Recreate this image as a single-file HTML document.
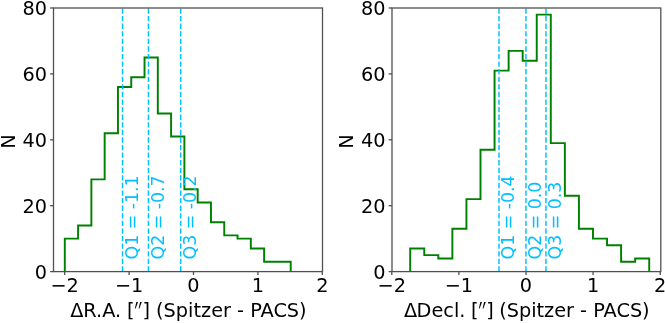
<!DOCTYPE html>
<html><head><meta charset="utf-8"><style>
html,body{margin:0;padding:0;background:#fff;}
body{width:665px;height:323px;overflow:hidden;}
svg{display:block;}
.t{font-family:"DejaVu Sans","Liberation Sans",sans-serif;font-size:19.3px;fill:#000;}
.q{font-family:"DejaVu Sans","Liberation Sans",sans-serif;font-size:17.37px;fill:#00bfff;}
</style></head><body>
<svg width="665" height="323" viewBox="0 0 665 323">
<rect width="665" height="323" fill="#fff"/>
<path d="M64.80,271.60 L64.80,238.65 L78.09,238.65 L78.09,225.47 L91.38,225.47 L91.38,179.34 L104.66,179.34 L104.66,133.21 L117.95,133.21 L117.95,87.08 L131.24,87.08 L131.24,77.19 L144.53,77.19 L144.53,57.43 L157.82,57.43 L157.82,113.44 L171.10,113.44 L171.10,136.51 L184.39,136.51 L184.39,189.23 L197.68,189.23 L197.68,202.41 L210.97,202.41 L210.97,222.18 L224.26,222.18 L224.26,235.36 L237.54,235.36 L237.54,238.65 L250.83,238.65 L250.83,248.54 L264.12,248.54 L264.12,261.72 L277.41,261.72 L277.41,261.72 L290.70,261.72 L290.70,271.60" fill="none" stroke="#008000" stroke-width="1.93" stroke-linejoin="miter"/>
<path d="M122.55,271.6 L122.55,8.0" stroke="#00bfff" stroke-width="1.45" stroke-dasharray="5.3 2.285" fill="none"/>
<path d="M148.45,271.6 L148.45,8.0" stroke="#00bfff" stroke-width="1.45" stroke-dasharray="5.3 2.285" fill="none"/>
<path d="M180.70,271.6 L180.70,8.0" stroke="#00bfff" stroke-width="1.45" stroke-dasharray="5.3 2.285" fill="none"/>
<text transform="translate(137.95,259.5) rotate(-90)" class="q">Q1 = -1.1</text>
<text transform="translate(163.85,259.5) rotate(-90)" class="q">Q2 = -0.7</text>
<text transform="translate(196.10,259.5) rotate(-90)" class="q">Q3 = -0.2</text>
<rect x="53.5" y="8.0" width="269.00" height="263.60" fill="none" stroke="#505050" stroke-width="1.3"/>
<path d="M64.70,271.6 L64.70,274.98" stroke="#505050" stroke-width="1.3"/>
<text x="64.70" y="292.2" class="t" text-anchor="middle">−2</text>
<path d="M129.10,271.6 L129.10,274.98" stroke="#505050" stroke-width="1.3"/>
<text x="129.10" y="292.2" class="t" text-anchor="middle">−1</text>
<path d="M193.50,271.6 L193.50,274.98" stroke="#505050" stroke-width="1.3"/>
<text x="193.50" y="292.2" class="t" text-anchor="middle">0</text>
<path d="M257.90,271.6 L257.90,274.98" stroke="#505050" stroke-width="1.3"/>
<text x="257.90" y="292.2" class="t" text-anchor="middle">1</text>
<path d="M322.30,271.6 L322.30,274.98" stroke="#505050" stroke-width="1.3"/>
<text x="322.30" y="292.2" class="t" text-anchor="middle">2</text>
<path d="M50.12,271.60 L53.5,271.60" stroke="#505050" stroke-width="1.3"/>
<text x="47.14" y="278.90" class="t" text-anchor="end">0</text>
<path d="M50.12,205.70 L53.5,205.70" stroke="#505050" stroke-width="1.3"/>
<text x="47.14" y="213.00" class="t" text-anchor="end">20</text>
<path d="M50.12,139.80 L53.5,139.80" stroke="#505050" stroke-width="1.3"/>
<text x="47.14" y="147.10" class="t" text-anchor="end">40</text>
<path d="M50.12,73.90 L53.5,73.90" stroke="#505050" stroke-width="1.3"/>
<text x="47.14" y="81.20" class="t" text-anchor="end">60</text>
<path d="M50.12,8.00 L53.5,8.00" stroke="#505050" stroke-width="1.3"/>
<text x="47.14" y="15.30" class="t" text-anchor="end">80</text>
<text x="70.15" y="316.8" class="t" xml:space="preserve" style="white-space:pre"><tspan>Δ</tspan><tspan>R.A. </tspan><tspan dx="-0.3">[</tspan><tspan dx="7.9">]</tspan><tspan> (Spitzer - PACS)</tspan></text>
<text transform="translate(134.4,328.0) scale(0.919,1.835)" class="t" letter-spacing="-0.25">′′</text>
<text transform="translate(15.2,141.45) rotate(-90)" class="t" text-anchor="middle">N</text>
<path d="M410.20,271.60 L410.20,248.54 L424.26,248.54 L424.26,255.13 L438.32,255.13 L438.32,258.42 L452.38,258.42 L452.38,228.77 L466.44,228.77 L466.44,199.11 L480.50,199.11 L480.50,149.69 L494.56,149.69 L494.56,70.60 L508.62,70.60 L508.62,50.84 L522.68,50.84 L522.68,60.72 L536.74,60.72 L536.74,14.59 L550.80,14.59 L550.80,143.09 L564.86,143.09 L564.86,195.82 L578.92,195.82 L578.92,228.77 L592.98,228.77 L592.98,238.65 L607.04,238.65 L607.04,245.24 L621.10,245.24 L621.10,261.72 L635.16,261.72 L635.16,258.42 L649.22,258.42 L649.22,271.60" fill="none" stroke="#008000" stroke-width="1.93" stroke-linejoin="miter"/>
<path d="M499.00,271.6 L499.00,8.0" stroke="#00bfff" stroke-width="1.45" stroke-dasharray="5.3 2.285" fill="none"/>
<path d="M525.95,271.6 L525.95,8.0" stroke="#00bfff" stroke-width="1.45" stroke-dasharray="5.3 2.285" fill="none"/>
<path d="M545.95,271.6 L545.95,8.0" stroke="#00bfff" stroke-width="1.45" stroke-dasharray="5.3 2.285" fill="none"/>
<text transform="translate(514.40,259.5) rotate(-90)" class="q">Q1 = -0.4</text>
<text transform="translate(541.35,259.5) rotate(-90)" class="q">Q2 = 0.0</text>
<text transform="translate(561.35,259.5) rotate(-90)" class="q">Q3 = 0.3</text>
<rect x="392.0" y="8.0" width="268.80" height="263.60" fill="none" stroke="#505050" stroke-width="1.3"/>
<path d="M391.80,271.6 L391.80,274.98" stroke="#505050" stroke-width="1.3"/>
<text x="391.80" y="292.2" class="t" text-anchor="middle">−2</text>
<path d="M458.90,271.6 L458.90,274.98" stroke="#505050" stroke-width="1.3"/>
<text x="458.90" y="292.2" class="t" text-anchor="middle">−1</text>
<path d="M526.00,271.6 L526.00,274.98" stroke="#505050" stroke-width="1.3"/>
<text x="526.00" y="292.2" class="t" text-anchor="middle">0</text>
<path d="M593.10,271.6 L593.10,274.98" stroke="#505050" stroke-width="1.3"/>
<text x="593.10" y="292.2" class="t" text-anchor="middle">1</text>
<path d="M660.20,271.6 L660.20,274.98" stroke="#505050" stroke-width="1.3"/>
<text x="660.20" y="292.2" class="t" text-anchor="middle">2</text>
<path d="M388.62,271.60 L392.0,271.60" stroke="#505050" stroke-width="1.3"/>
<text x="385.64" y="278.90" class="t" text-anchor="end">0</text>
<path d="M388.62,205.70 L392.0,205.70" stroke="#505050" stroke-width="1.3"/>
<text x="385.64" y="213.00" class="t" text-anchor="end">20</text>
<path d="M388.62,139.80 L392.0,139.80" stroke="#505050" stroke-width="1.3"/>
<text x="385.64" y="147.10" class="t" text-anchor="end">40</text>
<path d="M388.62,73.90 L392.0,73.90" stroke="#505050" stroke-width="1.3"/>
<text x="385.64" y="81.20" class="t" text-anchor="end">60</text>
<path d="M388.62,8.00 L392.0,8.00" stroke="#505050" stroke-width="1.3"/>
<text x="385.64" y="15.30" class="t" text-anchor="end">80</text>
<text x="402.9" y="316.8" class="t" xml:space="preserve" style="white-space:pre"><tspan dx="1.0">Δ</tspan><tspan dx="-0.5">Decl. </tspan><tspan dx="-0.5">[</tspan><tspan dx="7.8">]</tspan><tspan dx="-0.9"> (Spitzer - PACS)</tspan></text>
<text transform="translate(478.55,328.0) scale(0.919,1.835)" class="t" letter-spacing="-0.25">′′</text>
<text transform="translate(353.2,141.45) rotate(-90)" class="t" text-anchor="middle">N</text>
</svg>
</body></html>
